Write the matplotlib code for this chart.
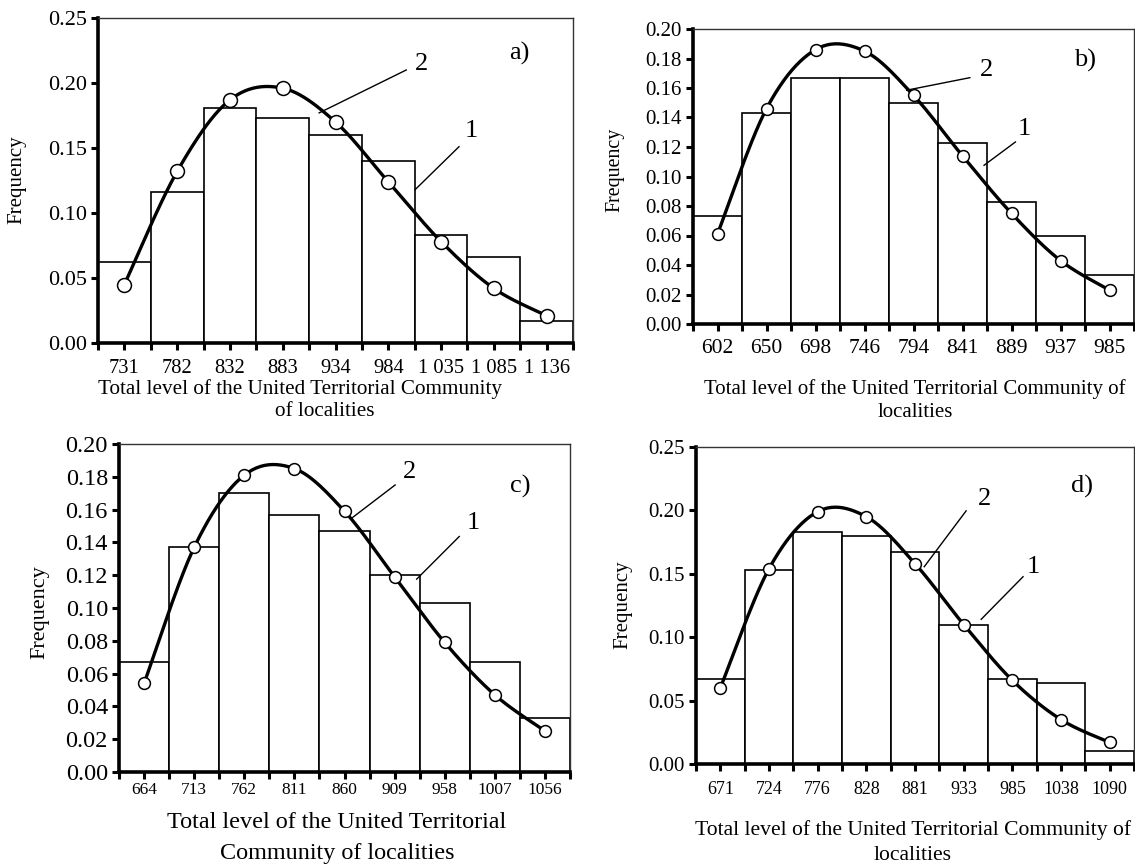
import numpy as np
import matplotlib
matplotlib.use("Agg")
import matplotlib.pyplot as plt
from matplotlib.ticker import FixedLocator, FormatStrFormatter

plt.rcParams["font.family"] = ["Liberation Serif", "DejaVu Serif"]

# --- data ---
labels_a = ["731", "782", "832", "883", "934", "984", "1 035", "1 085", "1 136"]
hist_a = [0.062, 0.116, 0.181, 0.173, 0.160, 0.140, 0.083, 0.066, 0.017]
theory_a = [0.045, 0.132, 0.187, 0.196, 0.170, 0.124, 0.078, 0.042, 0.021]

labels_b = ["602", "650", "698", "746", "794", "841", "889", "937", "985"]
hist_b = [0.073, 0.143, 0.167, 0.167, 0.150, 0.123, 0.083, 0.060, 0.033]
theory_b = [0.061, 0.146, 0.186, 0.185, 0.155, 0.114, 0.075, 0.043, 0.023]

labels_c = ["664", "713", "762", "811", "860", "909", "958", "1007", "1056"]
hist_c = [0.067, 0.137, 0.170, 0.157, 0.147, 0.120, 0.103, 0.067, 0.033]
theory_c = [0.054, 0.137, 0.181, 0.185, 0.159, 0.119, 0.079, 0.047, 0.025]

labels_d = ["671", "724", "776", "828", "881", "933", "985", "1038", "1090"]
hist_d = [0.067, 0.153, 0.183, 0.180, 0.167, 0.110, 0.067, 0.064, 0.010]
theory_d = [0.060, 0.154, 0.199, 0.195, 0.158, 0.110, 0.066, 0.035, 0.017]

W, H = 1135, 868


def px_rect(left, top, right, bottom):
    return [left / W, 1 - bottom / H, (right - left) / W, (bottom - top) / H]


def smooth(x, y, n=25):
    # Catmull-Rom through the points (like the spreadsheet "smoothed line")
    pts = np.column_stack([x, y]).astype(float)
    P = np.vstack([pts[0], pts, pts[-1]])
    t = np.linspace(0, 1, n, endpoint=False)[:, None]
    out = []
    for i in range(1, len(P) - 2):
        p0, p1, p2, p3 = P[i - 1], P[i], P[i + 1], P[i + 2]
        seg = 0.5 * (2 * p1 + (-p0 + p2) * t + (2 * p0 - 5 * p1 + 4 * p2 - p3) * t ** 2
                     + (-p0 + 3 * p1 - 3 * p2 + p3) * t ** 3)
        out.append(seg)
    out.append(pts[-1:])
    s = np.vstack(out)
    return s[:, 0], s[:, 1]


def draw_panel(ax, labels, hist, theory, ymax, ystep, tag, ann,
               xt_size, yt_size, xpad, msize):
    x = np.arange(len(labels))
    ax.bar(x, hist, width=1.0, color="white", edgecolor="black", linewidth=1.2, zorder=2)
    sx, sy = smooth(x, theory)
    ax.plot(sx, sy, color="black", linewidth=2.4, zorder=3)
    ax.plot(x, theory, linestyle="none", marker="o", markersize=msize,
            markerfacecolor="white", markeredgecolor="black", markeredgewidth=1.1, zorder=4)

    ax.set_xlim(-0.5, len(labels) - 0.5)
    ax.set_ylim(0, ymax)
    ax.set_xticks(x)
    ax.set_xticklabels(labels, fontsize=xt_size)
    ax.xaxis.set_minor_locator(FixedLocator(np.arange(len(labels) + 1) - 0.5))
    ax.set_yticks(np.arange(0, ymax + ystep / 2, ystep))
    ax.yaxis.set_major_formatter(FormatStrFormatter("%.2f"))
    for lab in ax.get_yticklabels():
        lab.set_fontsize(yt_size)
    ax.tick_params(axis="both", which="both", direction="out", length=5, width=2.2, pad=3)
    ax.tick_params(axis="x", which="major", pad=xpad)

    for side in ["left", "bottom"]:
        ax.spines[side].set_linewidth(2.6)
    for side in ["top", "right"]:
        ax.spines[side].set_linewidth(1.0)
        ax.spines[side].set_color("#333333")

    # leader lines for "2" (curve) and "1" (histogram)
    (t2, l2a, l2b), (t1, l1a, l1b) = ann
    ax.plot([l2a[0], l2b[0]], [l2a[1], l2b[1]], color="black", linewidth=1.0, zorder=5)
    ax.plot([l1a[0], l1b[0]], [l1a[1], l1b[1]], color="black", linewidth=1.0, zorder=5)
    ax.text(t2[0], t2[1], "2", fontsize=19, ha="center", va="center")
    ax.text(t1[0], t1[1], "1", fontsize=19, ha="center", va="center")
    ax.text(tag[0], tag[1], tag[2], fontsize=19, ha="center", va="center")


fig = plt.figure(figsize=(W / 100, H / 100), dpi=100)

ax_a = fig.add_axes(px_rect(98, 18, 573, 343))
draw_panel(ax_a, labels_a, hist_a, theory_a, 0.25, 0.05, (7.48, 0.223, "a)"),
           [((5.62, 0.215), (5.34, 0.210), (3.69, 0.177)),
            ((6.58, 0.163), (6.34, 0.151), (5.51, 0.118))], 14.8, 16, 6.5, 10)

ax_b = fig.add_axes(px_rect(693, 29, 1134, 324))
draw_panel(ax_b, labels_b, hist_b, theory_b, 0.20, 0.02, (7.5, 0.179, "b)"),
           [((5.48, 0.172), (5.15, 0.167), (3.86, 0.1585)),
            ((6.26, 0.1325), (6.08, 0.1234), (5.44, 0.1076))], 15.5, 15, 6, 8.5)

ax_c = fig.add_axes(px_rect(119, 444, 570, 772))
draw_panel(ax_c, labels_c, hist_c, theory_c, 0.20, 0.02, (7.5, 0.174, "c)"),
           [((5.3, 0.183), (5.01, 0.175), (4.14, 0.1547)),
            ((6.57, 0.1517), (6.29, 0.1436), (5.44, 0.1176))], 12.5, 17.5, 2.5, 8.5)

ax_d = fig.add_axes(px_rect(696, 447, 1134, 764))
draw_panel(ax_d, labels_d, hist_d, theory_d, 0.25, 0.05, (7.43, 0.2185, "d)"),
           [((5.42, 0.209), (5.05, 0.1996), (4.19, 0.1556)),
            ((6.44, 0.1556), (6.22, 0.1477), (5.36, 0.1141))], 13, 15, 7, 8.5)


def ftext(x, y, s, size, rot=0):
    fig.text(x / W, 1 - y / H, s, fontsize=size, ha="center", va="center", rotation=rot)


# axis titles
ftext(17, 180, "Frequency", 15, 90)
ftext(300, 389, "Total level of the United Territorial Community", 15.2)
ftext(325, 411, "of localities", 15.2)

ftext(615, 170, "Frequency", 14.4, 90)
ftext(915, 389, "Total level of the United Territorial Community of", 15)
ftext(915, 412, "localities", 15)

ftext(40, 612, "Frequency", 16, 90)
ftext(337, 823, "Total level of the United Territorial", 17.4)
ftext(337, 853, "Community of localities", 17.4)

ftext(623, 605, "Frequency", 15, 90)
ftext(913, 830, "Total level of the United Territorial Community of", 15.6)
ftext(913, 855, "localities", 15.6)

fig.savefig("out.png", dpi=100)
